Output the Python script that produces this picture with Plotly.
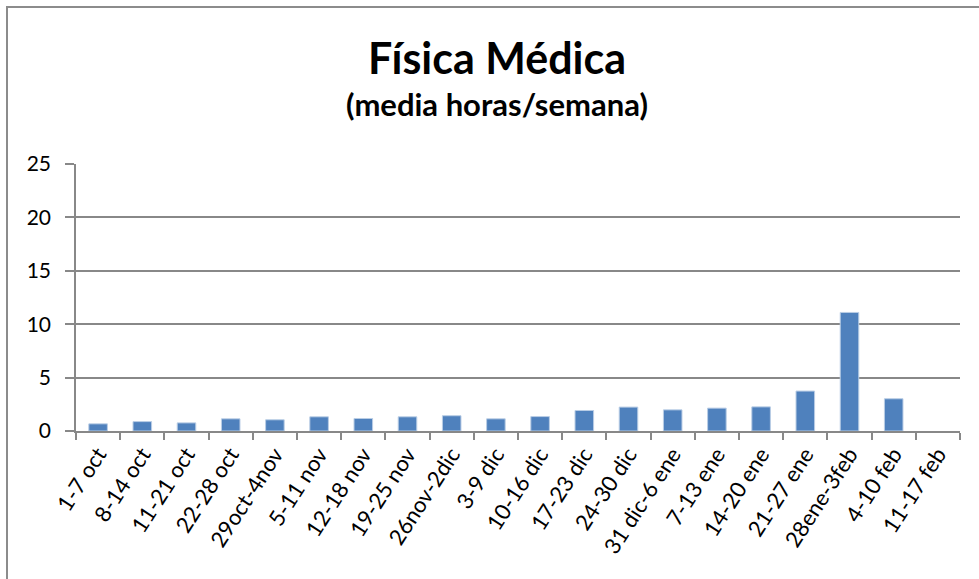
import plotly.graph_objects as go

categories = ["1-7 oct", "8-14 oct", "11-21 oct", "22-28 oct", "29oct-4nov",
              "5-11 nov", "12-18 nov", "19-25 nov", "26nov-2dic", "3-9 dic",
              "10-16 dic", "17-23 dic", "24-30 dic", "31 dic-6 ene", "7-13 ene",
              "14-20 ene", "21-27 ene", "28ene-3feb", "4-10 feb", "11-17 feb"]
values = [0.67, 0.88, 0.76, 1.14, 1.05, 1.33, 1.17, 1.33, 1.43, 1.14,
          1.35, 1.92, 2.24, 1.98, 2.14, 2.26, 3.74, 11.1, 3.02, None]
y_ticks = [0, 5, 10, 15, 20, 25]

FONT = "Lato, Calibri, Carlito, sans-serif"
GRID = "#888888"

L, R, T, B = 76, 19, 164, 148
W, H = 979, 579
pw, ph = W - L - R, H - T - B
title_x = (497 - L) / pw

fig = go.Figure(go.Bar(
    x=categories, y=values,
    marker=dict(color="#4F81BD", line=dict(color="#B9CDE5", width=1)),
    width=0.42,
))

fig.update_layout(
    width=W, height=H,
    margin=dict(l=L, r=R, t=T, b=B),
    paper_bgcolor="white", plot_bgcolor="white",
    showlegend=False,
    font=dict(family=FONT, color="black", size=20),
    xaxis=dict(
        type="category",
        tickangle=-57,
        tickson="boundaries",
        ticks="outside", ticklen=7, tickcolor=GRID, tickwidth=1.5,
        showline=True, linecolor=GRID, linewidth=1.5,
        showgrid=False,
        tickfont=dict(family=FONT, size=22),
        range=[-0.5, len(categories) - 0.5],
        automargin=False,
    ),
    yaxis=dict(
        range=[0, 25],
        tickvals=y_ticks,
        ticks="outside", ticklen=9, tickcolor=GRID, tickwidth=1.5,
        showline=True, linecolor=GRID, linewidth=1.5,
        showgrid=True, gridcolor=GRID, gridwidth=1.5,
        zeroline=False,
        tickfont=dict(family=FONT, size=21),
        ticklabelstandoff=10,
        automargin=False,
    ),
    annotations=[
        dict(text="<b>Física Médica</b>", x=title_x, xref="paper",
             y=(431 - 58) / ph, yref="paper",
             xanchor="center", yanchor="middle", showarrow=False,
             font=dict(family=FONT, size=43, color="black")),
        dict(text="<b>(media horas/semana)</b>", x=title_x, xref="paper",
             y=(431 - 104) / ph, yref="paper",
             xanchor="center", yanchor="middle", showarrow=False,
             font=dict(family=FONT, size=31, color="black")),
    ],
    shapes=[
        dict(type="rect", xref="paper", yref="paper",
             x0=(7 - L) / pw, x1=(990 - L) / pw,
             y0=(431 - 590) / ph, y1=(431 - 7) / ph,
             line=dict(color="#8C8C8C", width=2), fillcolor="rgba(0,0,0,0)",
             layer="below"),
    ],
)

fig.write_html(
    "out.html",
    config={"displayModeBar": False},
    post_script="document.body.style.margin='0';document.body.style.padding='0';",
)
